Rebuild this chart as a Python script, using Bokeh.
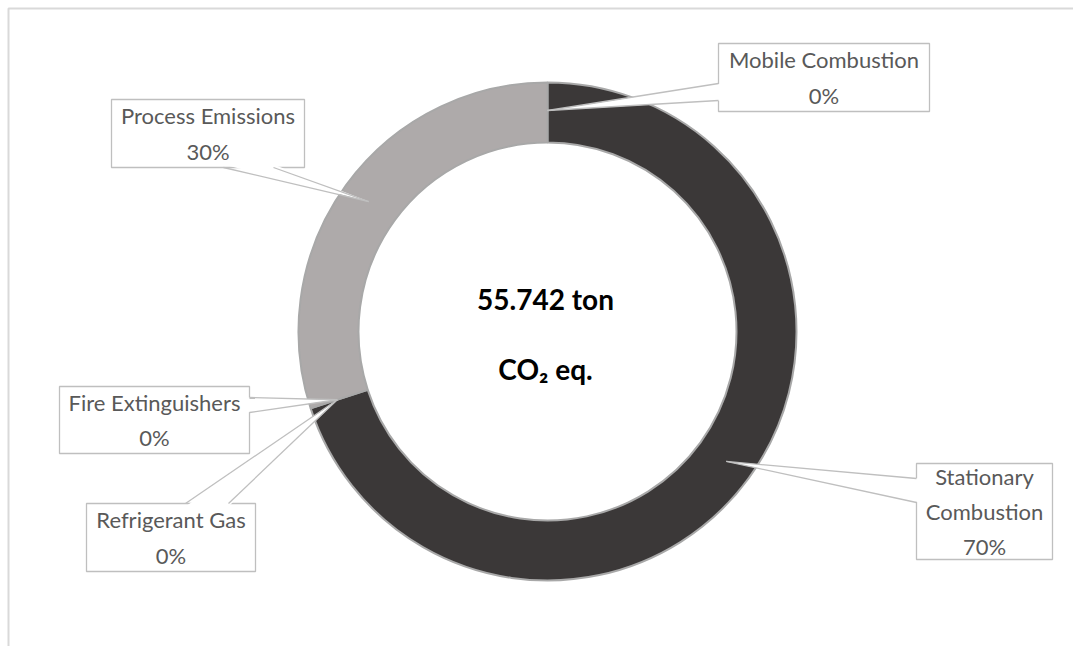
import numpy as np
from bokeh.plotting import figure
from bokeh.models import Range1d
from bokeh.core.properties import value
from bokeh.embed import file_html
from bokeh.resources import INLINE

# ---------------- data ----------------
categories = ["Mobile Combustion", "Stationary Combustion", "Refrigerant Gas",
              "Fire Extinguishers", "Process Emissions"]
tons = [0.0, 39.02, 0.0, 0.0, 16.72]
colors = ["#3B3838", "#3B3838", "#7F7F7F", "#A5A5A5", "#AEAAAA"]
total_label = "55.742 ton"
unit_label = "CO\u2082 eq."

# ---------------- layout ----------------
W, H = 1073, 646
CX, CY = 547, 331          # ring centre (pixels, top-down)
R_OUT, R_IN = 249, 189
R_TIP = 221

def Y(y):
    return H - y

p = figure(width=W, height=H, x_range=Range1d(0, W), y_range=Range1d(0, H),
           output_backend="svg", toolbar_location=None, min_border=0)
p.xaxis.visible = False
p.yaxis.visible = False
p.xgrid.grid_line_color = None
p.ygrid.grid_line_color = None
p.outline_line_color = None
p.background_fill_color = "white"
p.border_fill_color = "white"

# chart-area border (continues past right and bottom edges)
p.line(x=[8, 8, W + 10], y=[-10, Y(8), Y(8)], line_color="#d9d9d9", line_width=2)

# ---------------- ring ----------------
vals = np.array(tons, dtype=float)
frac = vals / vals.sum()
cum = np.concatenate([[0.0], np.cumsum(frac)])
th0 = cum[:-1] * 360.0
th1 = cum[1:] * 360.0
thm = (th0 + th1) / 2.0

nz = [i for i in range(len(vals)) if vals[i] > 0]
p.annular_wedge(x=[CX] * len(nz), y=[Y(CY)] * len(nz),
                inner_radius=R_IN, outer_radius=R_OUT,
                start_angle=[np.radians(90 - th0[i]) for i in nz],
                end_angle=[np.radians(90 - th1[i]) for i in nz],
                direction="clock",
                fill_color=[colors[i] for i in nz],
                line_color="#a8a8a8", line_width=2)

# ---------------- callouts ----------------
# box: left, right, top, bottom (pixels top-down); wedge base points and side
boxes = [
    (718, 929, 43, 111, (718, 83), (718, 100), "left"),
    (916, 1052, 463, 559, (916, 478), (916, 502), "left"),
    (86, 255, 503, 571, (185, 503), (228, 503), "top"),
    (59, 249, 386, 453, (249, 397), (249, 412), "right"),
    (111, 304, 99, 167, (223, 167), (273, 167), "bottom"),
]
inward = {"left": (3, 0), "right": (-3, 0), "top": (0, 3), "bottom": (0, -3)}

pct = [f"{round(f * 100)}%" for f in frac]
texts = []
for i, c in enumerate(categories):
    name = c.replace(" ", "\n") if i == 1 else c
    texts.append(name + "\n" + pct[i])

# boxes
p.quad(left=[b[0] for b in boxes], right=[b[1] for b in boxes],
       top=[Y(b[2]) for b in boxes], bottom=[Y(b[3]) for b in boxes],
       fill_color="white", line_color="#bfbfbf", line_width=1.3)

tri_x, tri_y, edge_x, edge_y = [], [], [], []
for i, b in enumerate(boxes):
    tx = CX + R_TIP * np.sin(np.radians(thm[i]))
    ty = CY - R_TIP * np.cos(np.radians(thm[i]))
    (b1x, b1y), (b2x, b2y), side = b[4], b[5], b[6]
    dx, dy = inward[side]
    tri_x.append([tx, b1x + dx, b2x + dx])
    tri_y.append([Y(ty), Y(b1y + dy), Y(b2y + dy)])
    edge_x += [[tx, b1x], [tx, b2x]]
    edge_y += [[Y(ty), Y(b1y)], [Y(ty), Y(b2y)]]

p.patches(xs=tri_x, ys=tri_y, fill_color="white", line_color=None)
p.multi_line(xs=edge_x, ys=edge_y, line_color="#bfbfbf", line_width=1.3)

p.text(x=[(b[0] + b[1]) / 2 for b in boxes],
       y=[Y((b[2] + b[3]) / 2) for b in boxes],
       text=texts, text_font=value("Lato"), text_font_size="22px",
       text_color="#595959", text_align="center", text_baseline="middle",
       text_line_height=1.3)

# ---------------- centre text ----------------
p.text(x=[545], y=[Y(298)], text=[total_label], text_font=value("Lato"),
       text_font_size="28px", text_font_style="bold", text_color="black",
       text_align="center", text_baseline="middle")
p.text(x=[545], y=[Y(368)], text=[unit_label], text_font=value("Lato"),
       text_font_size="28px", text_font_style="bold", text_color="black",
       text_align="center", text_baseline="middle")

open("out.html", "w").write(file_html(p, INLINE))
